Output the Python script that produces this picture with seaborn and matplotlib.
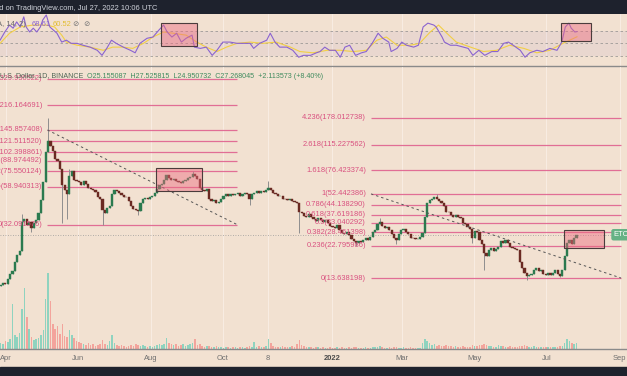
import pandas as pd
import matplotlib
matplotlib.use('Agg')
import matplotlib.pyplot as plt
import matplotlib.dates as mdates
from matplotlib.patches import Rectangle
import seaborn as sns

W, H = 627, 376

# --- data (ETC/USD, 2-day candles) ---
BASE = pd.Timestamp('2021-04-01')
CANDLE_START = '2021-03-27'
FIRST_OPEN = 12.0
CLOSE = [
    12.2, 12.6, 12.3, 13.4, 14.6, 15.3, 17.5, 19.8, 20.9, 33.5,
    35.0, 32.0, 33.5, 30.5, 32.8, 34.5, 38.5, 47.5, 63.0, 102.0,
    122, 112, 104, 92, 89, 78, 60, 56, 52, 70,
    76, 66, 64, 63, 60, 64, 61, 58, 57, 55.5,
    54, 50, 48.5, 40.5, 38.5, 42, 43.5, 52, 56, 54.5,
    53, 51.5, 50, 49.5, 47, 43, 41.5, 40.5, 40, 45,
    48, 49, 48.5, 50, 50.5, 53, 57, 60, 61.5, 66,
    71, 68, 66, 67, 64.5, 63, 62.5, 64.5, 66, 67.5,
    69, 72.5, 70, 67, 58, 56, 55, 56.5, 48, 46.5,
    47.5, 45, 46, 48, 51, 52, 51, 52.5, 51.5, 52,
    53, 51, 52.5, 53, 52, 48.5, 52, 53.5, 54.5, 53,
    55, 54, 56, 57.5, 56, 53.5, 52, 50.5, 51, 48.5,
    48, 47.5, 48.5, 46.5, 46, 45.5, 39.5, 38.5, 37, 36.5,
    38, 36, 35, 34, 35.5, 34.5, 33.5, 34.5, 33, 31.5,
    31, 30.5, 32, 29.5, 28, 27.5, 28.5, 27, 25.5, 24.5,
    23.8, 24.5, 24.2, 25.2, 25.8, 25.2, 26.5, 28.5, 29.5, 32.5,
    33.5, 31.5, 30.5, 30.8, 29.5, 27.5, 25.8, 25.2, 27.5, 29.5,
    30, 28.5, 27.5, 26, 25.8, 25.3, 25.5, 26.5, 28, 36.5,
    45, 47.5, 48.5, 49.5, 48.5, 47, 45.5, 43.5, 39.5, 39,
    37.5, 36, 37.5, 36.5, 35.5, 33, 32.5, 31, 30, 26,
    29, 28.5, 25, 23.5, 20.5, 19.5, 21.5, 22, 21, 21.8,
    22.5, 24.5, 24, 25, 24, 22.5, 22, 21.8, 21.2, 17.5,
    16, 14.8, 14, 14.3, 14.6, 15.6, 16, 15.2, 15.6, 14.6,
    14.4, 14.8, 14.3, 14.9, 15.4, 14.5, 14.1, 15.5, 19.5, 24,
    25.2, 23.5, 26.0, 27.268045,
]
VOLUME = [
    6, 5, 8, 7, 10, 45, 14, 12, 16, 40,
    61, 32, 20, 12, 9, 10, 11, 14, 19, 50,
    76, 48, 25, 20, 23, 15, 25, 13, 12, 19,
    14, 11, 8, 7, 6, 5, 4, 6, 4, 5,
    3, 4, 5, 9, 5, 4, 8, 14, 6, 4,
    3, 4, 3, 2, 3, 4, 3, 5, 4, 3,
    4, 3, 2, 3, 2, 3, 4, 5, 4, 5,
    11, 6, 5, 4, 5, 3, 4, 5, 3, 4,
    5, 6, 10, 4, 5, 3, 2, 3, 3, 2,
    2, 3, 2, 2, 1, 2, 2, 1, 2, 2,
    1, 2, 2, 1, 2, 3, 2, 7, 2, 3,
    2, 2, 3, 10, 6, 3, 2, 2, 2, 3,
    2, 2, 2, 3, 2, 5, 9, 4, 3, 2,
    2, 2, 1, 2, 2, 1, 2, 1, 1, 2,
    1, 1, 2, 1, 2, 1, 1, 2, 1, 2,
    2, 1, 1, 1, 2, 1, 1, 2, 2, 2,
    3, 2, 1, 1, 2, 1, 2, 2, 1, 1,
    2, 1, 1, 2, 1, 1, 1, 1, 6, 10,
    8, 6, 4, 5, 3, 4, 3, 3, 4, 3,
    3, 2, 3, 2, 2, 3, 2, 2, 2, 4,
    3, 3, 4, 4, 5, 4, 3, 3, 2, 2,
    4, 3, 3, 2, 2, 3, 2, 2, 2, 3,
    3, 4, 3, 2, 2, 3, 2, 2, 2, 2,
    2, 2, 2, 2, 2, 2, 3, 3, 6, 10,
    8, 6, 5, 6,
]
HIGH_WICK_IDX = [9, 20, 29, 81, 113, 160, 184]
HIGH_WICK_VAL = [38, 176, 78, 76, 64, 35.5, 52.4]
LOW_WICK_IDX = [13, 26, 28, 43, 58, 105, 126, 150, 167, 199, 204, 222, 236]
LOW_WICK_VAL = [28.5, 33, 35, 32, 37.5, 44, 28, 22.8, 23.5, 24, 15.5, 13.3, 13.8]

# RSI (days since 2021-04-01)
RSI_DAY = [-5, -1, 3, 6, 9, 12, 15, 17, 20, 23, 26, 29, 31, 34, 37, 40, 43, 47, 51, 55,
           60, 65, 71, 77, 81, 85, 89, 93, 99, 105, 109, 113, 119, 124, 129, 133, 136, 140, 144, 148,
           152, 157, 159, 164, 169, 174, 178, 183, 189, 195, 200, 206, 209, 214, 220, 223, 227, 231, 237, 242,
           247, 251, 257, 262, 265, 269, 273, 278, 282, 286, 290, 295, 300, 304, 309, 314, 318, 323, 325, 330,
           334, 338, 344, 348, 352, 356, 361, 363, 368, 370, 375, 380, 386, 390, 394, 399, 404, 410, 415, 420,
           424, 428, 434, 438, 442, 448, 453, 459, 465, 469, 472, 475, 477, 480, 482]
RSI_VAL = [55, 68, 79, 74, 84, 76, 92, 76, 68, 74, 68, 76, 87, 95, 76, 71, 66, 52, 55, 50,
           50, 47, 44, 39, 31, 42, 55, 50, 44, 39, 35, 50, 58, 60, 71, 79, 68, 60, 66, 52,
           58, 63, 44, 42, 44, 31, 39, 52, 52, 50, 50, 50, 42, 50, 55, 66, 52, 44, 44, 39,
           28, 31, 31, 35, 37, 44, 39, 39, 28, 44, 47, 31, 35, 37, 50, 66, 58, 52, 37, 42,
           52, 47, 44, 47, 76, 82, 79, 76, 60, 52, 47, 47, 44, 42, 31, 39, 31, 37, 37, 50,
           52, 47, 39, 28, 35, 39, 37, 42, 39, 52, 76, 82, 74, 68, 68.61]
MA_DAY = [-5, 3, 12, 23, 34, 41, 47, 51, 60, 71, 82, 90, 99, 107, 116, 124, 133, 141, 152, 161,
          169, 178, 186, 195, 206, 217, 228, 240, 248, 259, 271, 282, 293, 304, 313, 321, 330, 341, 349, 358,
          365, 372, 380, 392, 403, 414, 425, 437, 448, 459, 470, 482]
MA_VAL = [50, 66, 76, 79, 79, 76, 63, 52, 47, 44, 39, 44, 44, 42, 50, 60, 68, 66, 63, 52,
          44, 37, 44, 50, 52, 50, 52, 44, 37, 35, 39, 39, 37, 39, 55, 60, 47, 47, 50, 68,
          79, 66, 52, 44, 37, 39, 47, 42, 35, 39, 50, 60.52]

# Fibonacci tools
LEFT_FIB_RATIO = ['0', '0.236', '0.382', '0.5', '0.618', '0.786', '1', '1.618', '2.618']
LEFT_FIB_PRICE = [32.091576, 58.940313, 75.550124, 88.974492, 102.398861,
                  121.511520, 145.857408, 216.164691, 329.930522]
LEFT_FIB_SPAN = ['2021-05-06', '2021-10-13']
RIGHT_FIB_RATIO = ['0', '0.236', '0.382', '0.5', '0.618', '0.786', '1', '1.618', '2.618', '4.236']
RIGHT_FIB_PRICE = [13.638198, 22.795986, 28.461398, 33.040292, 37.619186,
                   44.138290, 52.442386, 76.423374, 115.227562, 178.012738]
RIGHT_FIB_SPAN = ['2022-02-03', '2022-09-02']

# highlighted boxes: (start, end, low, high)
PRICE_BOXES = [('2021-08-06', '2021-09-13', 55.0, 79.4), ('2022-07-16', '2022-08-19', 22.1, 29.5)]
RSI_BOXES = [('2021-08-10', '2021-09-09', 45.7, 82.2), ('2022-07-13', '2022-08-08', 53.6, 82.2)]

TICK_DATES = ['2021-04-01', '2021-06-01', '2021-08-01', '2021-10-01', '2021-11-08',
              '2022-01-01', '2022-03-01', '2022-05-01', '2022-07-01', '2022-09-01']
TICK_LABELS = ['Apr', 'Jun', 'Aug', 'Oct', '8', '2022', 'Mar', 'May', 'Jul', 'Sep']
LAST = 27.268045

# --- style ---
sns.set_style('white')
plt.rcParams['font.family'] = ['Liberation Sans', 'DejaVu Sans']

BG = '#f2e1d1'
DARK = '#1e222d'
FIB = '#e0628f'
UP, DOWN, WICK = '#2b7a4f', '#6b2a22', '#8e8e8e'
VUP, VDOWN = '#8fd3bf', '#f3a49c'
BOX_FC = (0.93, 0.42, 0.50, 0.45)
BOX_EC = '#4a3c3c'
FS = 5.4

fig = plt.figure(figsize=(W / 100, H / 100), dpi=100, facecolor=BG)


def frac(px0, py0, px1, py1):
    return [px0 / W, 1 - py1 / H, (px1 - px0) / W, (py1 - py0) / H]


rsi_ax = fig.add_axes(frac(0, 14, W, 66))
vol_ax = fig.add_axes(frac(0, 67, W, 349))
ax = fig.add_axes(frac(0, 67, W, 349))
ax.patch.set_visible(False)

xlim = (BASE + pd.Timedelta(days=-5.06), BASE + pd.Timedelta(days=524.05))
ticks = pd.to_datetime(TICK_DATES)

# --- candles data ---
dates = pd.date_range(CANDLE_START, periods=len(CLOSE), freq='2D') + pd.Timedelta(hours=12)
close = pd.Series(CLOSE, dtype=float)
opn = close.shift(1).fillna(FIRST_OPEN)
body_lo = pd.concat([opn, close], axis=1).min(axis=1)
body_hi = pd.concat([opn, close], axis=1).max(axis=1)
high = body_hi.copy()
low = body_lo.copy()
high[HIGH_WICK_IDX] = HIGH_WICK_VAL
low[LOW_WICK_IDX] = LOW_WICK_VAL
up = close >= opn

# --- volume (behind) ---
vol_ax.set_facecolor(BG)
vol_ax.bar(dates, VOLUME, width=1.3, color=[VUP if u else VDOWN for u in up], linewidth=0)
for t in ticks:
    vol_ax.axvline(t, color='#f8ece2', lw=0.8, zorder=0)
vol_ax.set_xlim(xlim)
vol_ax.set_ylim(0, 282)
vol_ax.axis('off')

# --- candles ---
ax.vlines(dates, low, high, color=WICK, lw=0.7, zorder=3)
ax.bar(dates, body_hi - body_lo, bottom=body_lo, width=1.85,
       color=[UP if u else DOWN for u in up], linewidth=0.3,
       edgecolor=[UP if u else DOWN for u in up], zorder=4)
ax.set_yscale('log')
ax.set_ylim(4.38, 399.6)
ax.set_xlim(xlim)

# fib tools
for ratios, prices, span in [(LEFT_FIB_RATIO, LEFT_FIB_PRICE, LEFT_FIB_SPAN),
                             (RIGHT_FIB_RATIO, RIGHT_FIB_PRICE, RIGHT_FIB_SPAN)]:
    x0, x1 = mdates.date2num(pd.Timestamp(span[0])), mdates.date2num(pd.Timestamp(span[1]))
    ax.hlines(prices, x0, x1, color=FIB, lw=0.9, alpha=0.9, zorder=2)
    for r, p in zip(ratios, prices):
        ax.annotate(f'{r}({p:.6f})', xy=(x0, p), xytext=(-5, 0), textcoords='offset pixels',
                    ha='right', va='center', fontsize=FS, color='#d9507f', zorder=6,
                    annotation_clip=False)
    ax.plot([x0, x1], [prices[6], prices[0]], color='#555555', lw=0.7,
            ls=(0, (2.5, 3)), zorder=5)

for s, e, lo, hi in PRICE_BOXES:
    s0, e0 = mdates.date2num(pd.Timestamp(s)), mdates.date2num(pd.Timestamp(e))
    ax.add_patch(Rectangle((s0, lo), e0 - s0, hi - lo, fc=BOX_FC, ec=BOX_EC, lw=0.8, zorder=5))

ax.axhline(LAST, color='#9a9a9a', lw=0.6, ls=(0, (1, 2)), zorder=1)
ax.annotate('ETCUSD', xy=(mdates.date2num(pd.Timestamp('2022-08-25')), LAST), xytext=(2, 0),
            textcoords='offset pixels', ha='left', va='center', fontsize=FS, color='white',
            bbox=dict(boxstyle='round,pad=0.3', fc='#66b285', ec='none'), annotation_clip=False, zorder=7)

ax.set_xticks(ticks)
ax.set_xticklabels(TICK_LABELS)
ax.tick_params(axis='x', length=0, pad=4, labelsize=5.4, labelcolor='#6f6f6f')
ax.get_xticklabels()[5].set_fontweight('bold')
ax.get_xticklabels()[5].set_color('#4a4a4a')
ax.set_yticks([])
ax.yaxis.set_minor_locator(matplotlib.ticker.NullLocator())
for side in ['top', 'left', 'right']:
    ax.spines[side].set_visible(False)
ax.spines['bottom'].set_color('#8a8a8a')
ax.spines['bottom'].set_linewidth(1.0)

# --- RSI panel ---
rsi_ax.set_facecolor(BG)
for t in ticks:
    rsi_ax.axvline(t, color='#f8ece2', lw=0.8, zorder=0)
rsi_ax.axhspan(30, 70, color='#7e57c2', alpha=0.07, lw=0)
for lvl in [70, 50, 30]:
    rsi_ax.axhline(lvl, color='#8a8a8a', lw=0.6, ls=(0, (3, 3)), alpha=0.8)
rsi_dates = BASE + pd.to_timedelta(RSI_DAY, unit='D')
ma_dates = BASE + pd.to_timedelta(MA_DAY, unit='D')
sns.lineplot(x=ma_dates, y=MA_VAL, ax=rsi_ax, color='#f2cf45', lw=0.8)
sns.lineplot(x=rsi_dates, y=RSI_VAL, ax=rsi_ax, color='#8a63cf', lw=0.8)
for s, e, lo, hi in RSI_BOXES:
    s0, e0 = mdates.date2num(pd.Timestamp(s)), mdates.date2num(pd.Timestamp(e))
    rsi_ax.add_patch(Rectangle((s0, lo), e0 - s0, hi - lo, fc=BOX_FC, ec=BOX_EC, lw=0.8, zorder=5))
rsi_ax.set_xlim(xlim)
rsi_ax.set_ylim(14.1, 96.5)
rsi_ax.set_xticks([])
rsi_ax.set_yticks([])
rsi_ax.set_xlabel('')
for side in ['top', 'left', 'right']:
    rsi_ax.spines[side].set_visible(False)
rsi_ax.spines['bottom'].set_color('#8a8a8a')
rsi_ax.spines['bottom'].set_linewidth(1.0)

# --- header / footer bands and texts ---
fig.add_artist(Rectangle((0, 1 - 14 / H), 1, 14 / H, transform=fig.transFigure, color=DARK, zorder=0))
fig.add_artist(Rectangle((0, 0), 1, 9 / H, transform=fig.transFigure, color=DARK, zorder=0))
fig.text(157 / W, 1 - 8 / H, 'Published on TradingView.com, Jul 27, 2022 10:06 UTC',
         ha='right', va='center', fontsize=5.4, color='#d1d4dc')
fig.text(26 / W, 1 - 24 / H, 'RSI (close, 14, SMA, 14, 2)', ha='right', va='center',
         fontsize=FS, color='#6b6b6b')
fig.text(32 / W, 1 - 24 / H, '68.61', ha='left', va='center', fontsize=FS, color='#8a63cf')
fig.text(53 / W, 1 - 24 / H, '60.52', ha='left', va='center', fontsize=FS, color='#e2bd30')
fig.text(73 / W, 1 - 24 / H, '\u2298  \u2298', ha='left', va='center', fontsize=FS,
         color='#777777', family=['DejaVu Sans'])
fig.text(83 / W, 1 - 76 / H, 'Ethereum Classic / U.S. Dollar, 1D, BINANCE', ha='right', va='center',
         fontsize=5.1, color='#4f6656')
fig.text(87 / W, 1 - 76 / H, 'O25.155087  H27.525815  L24.950732  C27.268045  +2.113573 (+8.40%)',
         ha='left', va='center', fontsize=5.1, color='#3f8b5e')

fig.savefig('out.png', dpi=100, facecolor=BG)
